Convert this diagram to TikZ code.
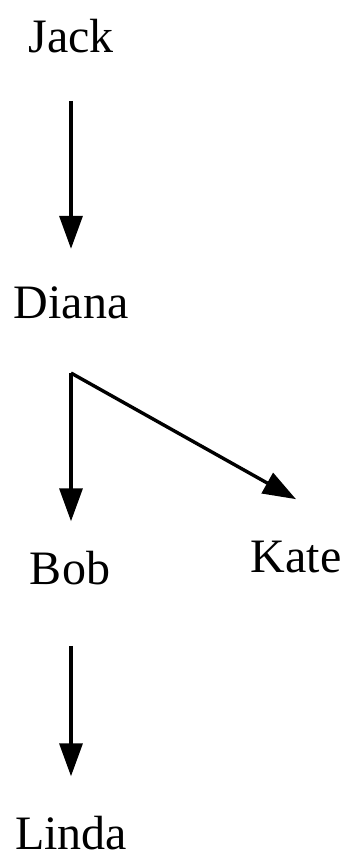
\documentclass[tikz,border=0pt]{standalone}
\usepackage{fontspec}
\setmainfont{Liberation Serif}
\usetikzlibrary{arrows.meta}

\begin{document}
\begin{tikzpicture}[x=0.5pt,y=-0.5pt,
  person/.style={font=\fontsize{24}{28}\selectfont,inner sep=0pt,anchor=base},
  arr/.style={line width=1.7pt,-{Triangle[length=16.5pt,width=11.5pt]}}]
\useasboundingbox (0,0) rectangle (350,857);

\node[person] (jack)  at (71,52)  {Jack};
\node[person] (diana) at (71,318) {Diana};
\node[person] (bob)   at (70,584) {Bob};
\node[person] (kate)  at (296,572) {Kate};
\node[person] (linda) at (71,849) {Linda};

% Diana's two arrows leave from one corner
\coordinate (fork) at (71,373);

\draw[arr,shorten <=24pt,shorten >=18.5pt] (jack) -- (diana);
\draw[arr] (fork) -- ([yshift=14.5pt]fork |- bob.north);
\draw[arr] (fork) -- ([yshift=20.5pt]kate.north);
\draw[arr,shorten <=30.5pt,shorten >=19.5pt] (bob.south -| fork) -- (linda.north -| fork);
\end{tikzpicture}
\end{document}
